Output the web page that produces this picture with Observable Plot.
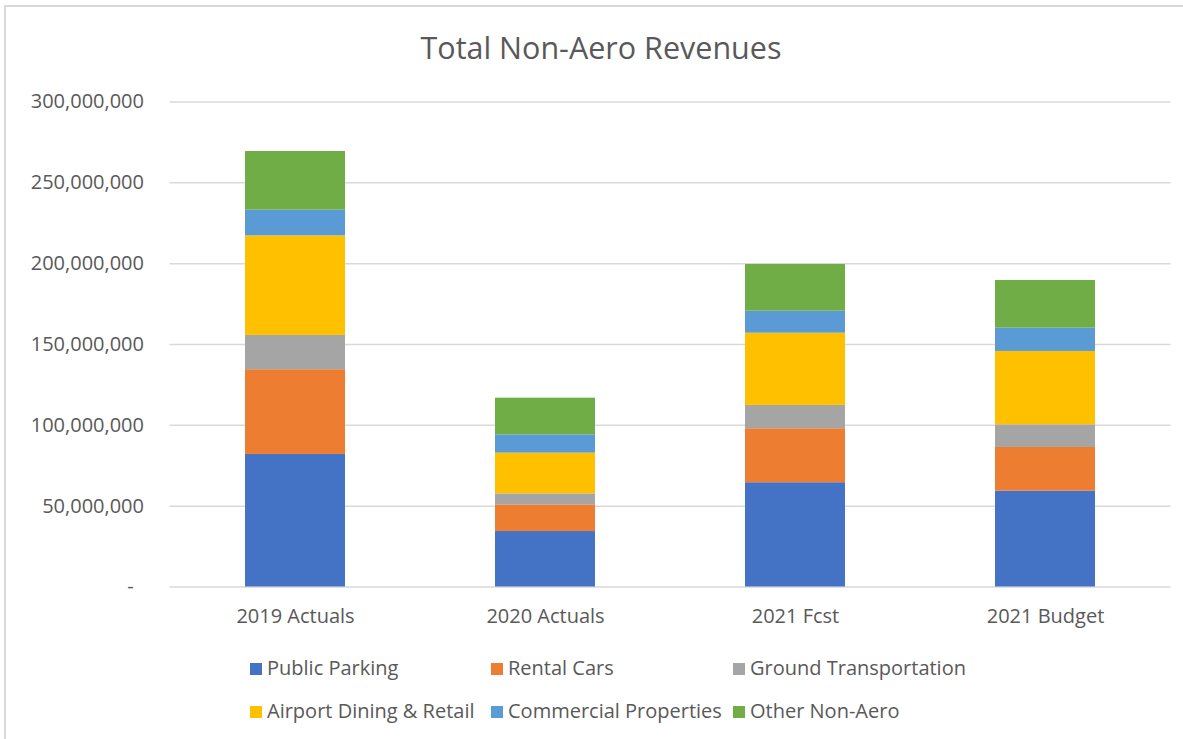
<!DOCTYPE html>
<html>
<head>
<meta charset="utf-8">
<script src="https://cdn.jsdelivr.net/npm/d3@7"></script>
<script src="https://cdn.jsdelivr.net/npm/@observablehq/plot@0.6"></script>
<style>
  html, body { margin: 0; padding: 0; background: #fff; overflow: hidden; }
  #wrap { position: relative; width: 1183px; height: 739px; overflow: hidden; font-family: "Open Sans", sans-serif; color: #595959; }
  #frame { position: absolute; left: 4px; top: 5px; width: 1200px; height: 760px; border: 2px solid #d9d9d9; box-sizing: border-box; }
  #title { position: absolute; left: 0; width: 1202px; top: 27px; text-align: center; font-size: 30.5px; line-height: 40px; color: #595959; }
  #chart { position: absolute; left: 0; top: 0; }
  .leg { position: absolute; font-size: 20px; color: #595959; white-space: nowrap; line-height: 20px; }
  .sw { display: inline-block; width: 12px; height: 12px; margin-right: 5px; vertical-align: 0px; }
</style>
</head>
<body>
<div id="wrap">
  <div id="frame"></div>
  <div id="title">Total Non-Aero Revenues</div>
  <div id="chart"></div>
  <div id="legend"></div>
</div>
<script>
const categories = ["2019 Actuals", "2020 Actuals", "2021 Fcst", "2021 Budget"];
const seriesNames = ["Public Parking", "Rental Cars", "Ground Transportation", "Airport Dining & Retail", "Commercial Properties", "Other Non-Aero"];
const seriesColors = ["#4472C4", "#ED7D31", "#A5A5A5", "#FFC000", "#5B9BD5", "#70AD47"];
const publicParking = [82.0e6, 34.3e6, 64.5e6, 59.3e6];
const rentalCars = [52.4e6, 16.5e6, 33.4e6, 27.0e6];
const groundTransportation = [21.2e6, 6.8e6, 14.4e6, 14.0e6];
const airportDining = [61.6e6, 25.2e6, 44.7e6, 45.4e6];
const commercialProperties = [15.9e6, 11.3e6, 13.6e6, 14.4e6];
const otherNonAero = [36.3e6, 22.7e6, 28.9e6, 29.5e6];
const yTicks = [0, 50e6, 100e6, 150e6, 200e6, 250e6, 300e6];

const seriesValues = [publicParking, rentalCars, groundTransportation, airportDining, commercialProperties, otherNonAero];
const data = [];
seriesNames.forEach((s, i) => categories.forEach((c, j) => data.push({category: c, series: s, value: seriesValues[i][j]})));

const fmt = d => d === 0 ? "-\u00a0\u00a0" : d3.format(",")(d);

const W = 1183, H = 640;
const plot = Plot.plot({
  width: W,
  height: H,
  marginTop: 101.5,
  marginBottom: H - 586.5,
  marginLeft: 169.5,
  marginRight: W - 1170.5,
  style: {fontFamily: "'Open Sans', sans-serif", fontSize: "20px", color: "#595959", background: "transparent"},
  x: {domain: categories, paddingInner: 0.6, paddingOuter: 0.3, label: null, tickSize: 0, tickPadding: 22},
  y: {domain: [0, 300e6], ticks: yTicks, tickFormat: fmt, label: null, tickSize: 0, tickPadding: 26},
  color: {domain: seriesNames, range: seriesColors},
  marks: [
    Plot.ruleY(yTicks, {stroke: "#d9d9d9", strokeWidth: 1.5}),
    Plot.barY(data, {x: "category", y: "value", fill: "series", z: "series", order: seriesNames})
  ]
});
document.getElementById("chart").appendChild(plot);

// legend
const legend = document.getElementById("legend");
const legX = [250, 491, 733];
const legY = [658, 701];
seriesNames.forEach((s, i) => {
  const d = document.createElement("div");
  d.className = "leg";
  d.style.left = legX[i % 3] + "px";
  d.style.top = legY[Math.floor(i / 3)] + "px";
  d.innerHTML = `<span class="sw" style="background:${seriesColors[i]}"></span>`;
  d.appendChild(document.createTextNode(s));
  legend.appendChild(d);
});
</script>
</body>
</html>
